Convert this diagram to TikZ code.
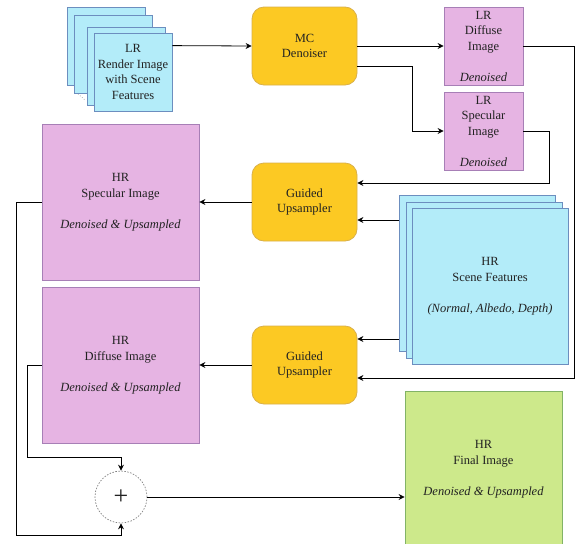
\documentclass[tikz,border=0pt]{standalone}
\usepackage{fontspec}
\setmainfont{Liberation Serif}
\usetikzlibrary{arrows.meta,calc}
\definecolor{pinkf}{HTML}{E6B4E3}
\definecolor{pinkd}{HTML}{A77FB6}
\definecolor{yelf}{HTML}{FCC923}
\definecolor{yeld}{HTML}{D9B04A}
\definecolor{cyanf}{HTML}{B3ECF9}
\definecolor{cyand}{HTML}{6C8EBF}
\definecolor{grnf}{HTML}{CDE98B}
\definecolor{grnd}{HTML}{82B366}
\definecolor{txt}{HTML}{222222}
\tikzset{
  base/.style={inner sep=0pt, align=center, text=txt, line width=0.8pt,
    font=\fontsize{12.5}{15.5}\selectfont},
  pinkbox/.style={base, draw=pinkd, fill=pinkf, minimum width=157pt, minimum height=156pt},
  lrbox/.style={base, draw=pinkd, fill=pinkf, minimum width=79pt, minimum height=78pt},
  yelbox/.style={base, draw=yeld, fill=yelf, rounded corners=12pt, minimum width=105pt, minimum height=78pt},
  cyanbox/.style={base, draw=cyand, fill=cyanf, minimum width=78pt, minimum height=78pt},
  scenebox/.style={base, draw=cyand, fill=cyanf, minimum width=156pt, minimum height=156pt},
  grnbox/.style={base, draw=grnd, fill=grnf, minimum width=157pt, minimum height=156pt},
  arr/.style={draw=black, line width=0.8pt, -{Stealth[length=6pt,width=6pt,inset=2pt]}},
  conn/.style={draw=black, line width=0.8pt},
}
\begin{document}
\begin{tikzpicture}[x=1pt,y=-1pt]
\useasboundingbox (0,0) rectangle (579,544);
% LR render stack
\node[cyanbox] (r1) at (106,46) {};
\node[cyanbox] (r2) at (113,54) {};
\draw[gray, dotted, line width=0.6pt] (78,94) -- (85,100);
\node[cyanbox] (r3) at (126,66) {};
\node[cyanbox] (r4) at (133,72) {LR\\Render Image\\with Scene\\Features};
% MC denoiser
\node[yelbox] (mc) at (304.5,46) {MC\\Denoiser};
% LR images
\node[lrbox] (lrd) at (483.5,46) {LR\\Diffuse\\Image\\[15.5pt]\textit{Denoised}};
\node[lrbox] (lrs) at (483.5,131) {LR\\Specular\\Image\\[15.5pt]\textit{Denoised}};
% Guided upsamplers
\node[yelbox] (g1) at (304.5,202) {Guided\\Upsampler};
\node[yelbox] (g2) at (304.5,365) {Guided\\Upsampler};
% HR images
\node[pinkbox] (hrs) at (120.5,202) {HR\\Specular Image\\[15.5pt]\textit{Denoised \& Upsampled}};
\node[pinkbox] (hrd) at (120.5,365) {HR\\Diffuse Image\\[15.5pt]\textit{Denoised \& Upsampled}};
% Scene features
\node[scenebox] (s1) at (477,273.5) {};
\node[scenebox] (s2) at (484,280) {};
\node[scenebox] (s3) at (490,286) {HR\\Scene Features\\[15.5pt]\textit{(Normal, Albedo, Depth)}};
% Final
\node[grnbox] (fin) at (483.5,469) {HR\\Final Image\\[15.5pt]\textit{Denoised \& Upsampled}};
% Plus
\node[circle, draw=gray, dashed, dash pattern=on 1.5pt off 1.5pt, line width=0.7pt, fill=white,
  minimum size=52pt, inner sep=0pt, text=txt, font=\fontsize{26}{26}\selectfont] (plus) at (121,497) {+};
% connectors
\draw[arr] ([yshift=-13pt]r4.north east) -- (mc.west);
\draw[arr] (mc.east) -- (lrd.west);
\draw[arr] ([yshift=-20pt]mc.east) -- ++(55,0) |- (lrs.west);
\draw[arr] (lrs.east) -- ++(26,0) |- ([yshift=19pt]g1.east);
\draw[arr] (lrd.east) -- ++(51,0) |- ([yshift=-13pt]g2.east);
\draw[arr] ([yshift=53.5pt]s1.west) -- ([yshift=53.5pt]s1.west -| g1.east);
\draw[arr] ([yshift=-65.5pt]s1.west) -- ([yshift=-65.5pt]s1.west -| g2.east);
\draw[arr] (g1.west) -- (hrs.east);
\draw[arr] (g2.west) -- (hrd.east);
\draw[arr] (hrs.west) -- ++(-25,0) |- ([yshift=-12pt]plus.south) -- (plus.south);
\draw[arr] (hrd.west) -- ++(-14,0) |- ([yshift=13pt]plus.north) -- (plus.north);
\draw[arr] (plus.east) -- (plus.east -| fin.west);
\end{tikzpicture}
\end{document}
